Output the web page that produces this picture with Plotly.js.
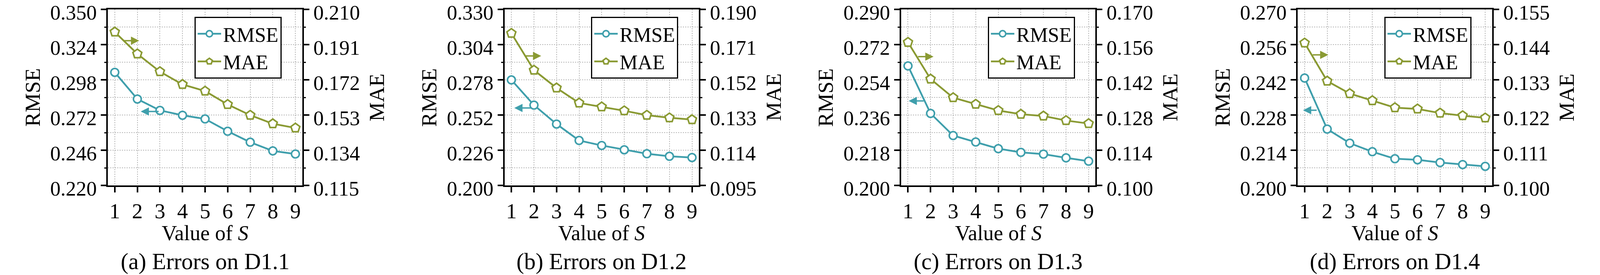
<!DOCTYPE html>
<html>
<head>
<meta charset="utf-8">
<script src="https://cdn.plot.ly/plotly-3.0.1.min.js"></script>
<style>
  html, body { margin: 0; padding: 0; background: #fff; overflow: hidden; }
  #chart { width: 100vw; height: 100vh; }
</style>
</head>
<body>
<div id="chart"></div>
<script>
// values of S on the x axis
var sValues = [1, 2, 3, 4, 5, 6, 7, 8, 9];

// RMSE / MAE
var rmseD11 = [0.3035, 0.2838, 0.2754, 0.2718, 0.2691, 0.2600, 0.2519, 0.2455, 0.2432];
var maeD11  = [0.1978, 0.1860, 0.1764, 0.1695, 0.1659, 0.1587, 0.1529, 0.1483, 0.1460];

var rmseD12 = [0.2779, 0.2593, 0.2453, 0.2332, 0.2295, 0.2263, 0.2234, 0.2215, 0.2206];
var maeD12  = [0.1771, 0.1572, 0.1476, 0.1395, 0.1374, 0.1353, 0.1329, 0.1315, 0.1305];

var rmseD13 = [0.2611, 0.2368, 0.2255, 0.2222, 0.2188, 0.2169, 0.2160, 0.2141, 0.2124];
var maeD13  = [0.1569, 0.1423, 0.1349, 0.1323, 0.1298, 0.1283, 0.1276, 0.1258, 0.1246];

var rmseD14 = [0.2427, 0.2224, 0.2168, 0.2134, 0.2106, 0.2102, 0.2091, 0.2083, 0.2076];
var maeD14  = [0.1445, 0.1326, 0.1287, 0.1265, 0.1243, 0.1239, 0.1226, 0.1218, 0.1211];

// tick labels, left (RMSE) and right (MAE) axes; the ends are the axis ranges
var rmseTicks = [
	[0.220, 0.246, 0.272, 0.298, 0.324, 0.350],
	[0.200, 0.226, 0.252, 0.278, 0.304, 0.330],
	[0.200, 0.218, 0.236, 0.254, 0.272, 0.290],
	[0.200, 0.214, 0.228, 0.242, 0.256, 0.270]
];
var maeTicks = [
	[0.115, 0.134, 0.153, 0.172, 0.191, 0.210],
	[0.095, 0.114, 0.133, 0.152, 0.171, 0.190],
	[0.100, 0.114, 0.128, 0.142, 0.156, 0.170],
	[0.100, 0.111, 0.122, 0.133, 0.144, 0.155]
];

var captions = ['(a) Errors on D1.1', '(b) Errors on D1.2', '(c) Errors on D1.3', '(d) Errors on D1.4'];

// arrow helpers: [tail S, head S, level]
var maeArrows  = [[1.38, 2.08, 0.1931], [1.60, 2.32, 0.1649], [1.42, 2.13, 0.1512], [1.33, 2.05, 0.1408]];
var rmseArrows = [[2.97, 2.15, 0.2746], [1.90, 1.13, 0.2572], [1.72, 1.03, 0.2432], [1.56, 0.93, 0.2299]];

var rmseData = [rmseD11, rmseD12, rmseD13, rmseD14];
var maeData = [maeD11, maeD12, maeD13, maeD14];

// reference frame in px, turned into paper fractions
var W = 4252, H = 703;
var TEAL = '#3f9fac', OLIVE = '#8a9a33';
var FONT = '"Liberation Serif", "Times New Roman", serif';
var plotLeft = [287, 1341, 2395, 3449];
var plotW = 516, plotTop = 24, plotBottom = 474;

var yDom = [(H - plotBottom) / H, (H - plotTop) / H];
var yMid = (yDom[0] + yDom[1]) / 2;

function mids(t) {
	var m = [];
	for (var k = 0; k < t.length - 1; k++) m.push((t[k] + t[k + 1]) / 2);
	return m;
}

var data = [];
var layout = {
	autosize: true,
	margin: {l: 0, r: 0, t: 0, b: 0, pad: 0},
	paper_bgcolor: '#fff', plot_bgcolor: '#fff',
	font: {family: FONT, color: '#000', size: 54},
	annotations: []
};

function ax(name, n) { return n === 1 ? name : name + n; }

for (var i = 0; i < 4; i++) {
	var xn = i + 1, yl = 2 * i + 1, yr = 2 * i + 2;
	var xId = ax('x', xn), ylId = ax('y', yl), yrId = ax('y', yr);
	var legendId = ax('legend', i + 1);
	var left = plotLeft[i];
	var rt = rmseTicks[i], mt = maeTicks[i];

	layout[ax('xaxis', xn)] = {
		domain: [left / W, (left + plotW) / W],
		anchor: ylId,
		range: [0.7, 9.3],
		tickvals: sValues,
		ticks: 'outside', ticklen: 14, tickwidth: 4, tickcolor: '#000',
		showline: true, linewidth: 4, linecolor: '#000', mirror: true,
		showgrid: true, gridcolor: '#b8b8b8', griddash: 'dot', gridwidth: 2,
		zeroline: false, ticklabeloverflow: 'allow',
		tickfont: {family: FONT, size: 55, color: '#000'}
	};

	// labels sit a little under their ticks, as in the original
	layout[ax('yaxis', yl)] = {
		domain: yDom,
		anchor: xId,
		range: [rt[0], rt[rt.length - 1]],
		tickvals: rt, tickformat: '.3f',
		ticks: 'outside', ticklen: 14, tickwidth: 4, tickcolor: '#000',
		showline: true, linewidth: 4, linecolor: '#000',
		showgrid: true, gridcolor: '#b8b8b8', griddash: 'dot', gridwidth: 2,
		minor: {tickvals: mids(rt), ticks: 'outside', ticklen: 5, tickwidth: 3, tickcolor: '#000',
			showgrid: true, gridcolor: '#b8b8b8', griddash: 'dot', gridwidth: 2},
		zeroline: false, ticklabeloverflow: 'allow', ticklabelshift: 7,
		tickfont: {family: FONT, size: 53, color: '#000'}
	};

	layout[ax('yaxis', yr)] = {
		overlaying: ylId,
		side: 'right',
		anchor: xId,
		range: [mt[0], mt[mt.length - 1]],
		tickvals: mt, tickformat: '.3f',
		ticks: 'outside', ticklen: 14, tickwidth: 4, tickcolor: '#000',
		showline: true, linewidth: 4, linecolor: '#000',
		showgrid: false,
		minor: {tickvals: mids(mt), ticks: 'outside', ticklen: 5, tickwidth: 3, tickcolor: '#000', showgrid: false},
		zeroline: false, ticklabeloverflow: 'allow', ticklabelshift: 7,
		tickfont: {family: FONT, size: 53, color: '#000'}
	};

	layout[legendId] = {
		x: (left + 230) / W, y: (H - 43) / H,
		xanchor: 'left', yanchor: 'top',
		bgcolor: '#fff', bordercolor: '#000', borderwidth: 3,
		font: {family: FONT, size: 52, color: '#000'},
		itemwidth: 60
	};

	data.push({
		x: sValues, y: rmseData[i], xaxis: xId, yaxis: ylId,
		name: 'RMSE', legend: legendId,
		mode: 'lines+markers',
		line: {color: TEAL, width: 4.5},
		marker: {symbol: 'circle', size: 20, color: '#fff', line: {color: TEAL, width: 4}}
	});
	data.push({
		x: sValues, y: maeData[i], xaxis: xId, yaxis: yrId,
		name: 'MAE', legend: legendId,
		mode: 'lines+markers',
		line: {color: OLIVE, width: 4.5},
		marker: {symbol: 'pentagon', size: 24, color: '#fff', line: {color: OLIVE, width: 4}}
	});

	var cx = (left + plotW / 2) / W;
	// axis titles and caption
	layout.annotations.push(
		{xref: 'paper', yref: 'paper', x: (left - 200) / W, y: yMid, text: 'RMSE', textangle: -90,
			showarrow: false, xanchor: 'center', yanchor: 'middle', font: {family: FONT, size: 55}},
		{xref: 'paper', yref: 'paper', x: (left + 715) / W, y: yMid, text: 'MAE', textangle: -90,
			showarrow: false, xanchor: 'center', yanchor: 'middle', font: {family: FONT, size: 55}},
		{xref: 'paper', yref: 'paper', x: cx, y: (H - 596) / H, text: 'Value of <i>S</i>',
			showarrow: false, xanchor: 'center', yanchor: 'middle', font: {family: FONT, size: 54}},
		{xref: 'paper', yref: 'paper', x: cx, y: (H - 668) / H, text: captions[i],
			showarrow: false, xanchor: 'center', yanchor: 'middle', font: {family: FONT, size: 59}}
	);

	// direction arrows: MAE -> right axis, RMSE -> left axis
	var ma = maeArrows[i], ra = rmseArrows[i];
	layout.annotations.push(
		{xref: xId, yref: yrId, axref: xId, ayref: yrId, x: ma[1], y: ma[2], ax: ma[0], ay: ma[2],
			text: '', showarrow: true, arrowhead: 2, arrowsize: 1.2, arrowwidth: 3.5, arrowcolor: OLIVE, standoff: 0},
		{xref: xId, yref: ylId, axref: xId, ayref: ylId, x: ra[1], y: ra[2], ax: ra[0], ay: ra[2],
			text: '', showarrow: true, arrowhead: 2, arrowsize: 1.2, arrowwidth: 3.5, arrowcolor: TEAL, standoff: 0}
	);
}

Plotly.newPlot('chart', data, layout, {displayModeBar: false, staticPlot: true, responsive: true});
</script>
</body>
</html>
